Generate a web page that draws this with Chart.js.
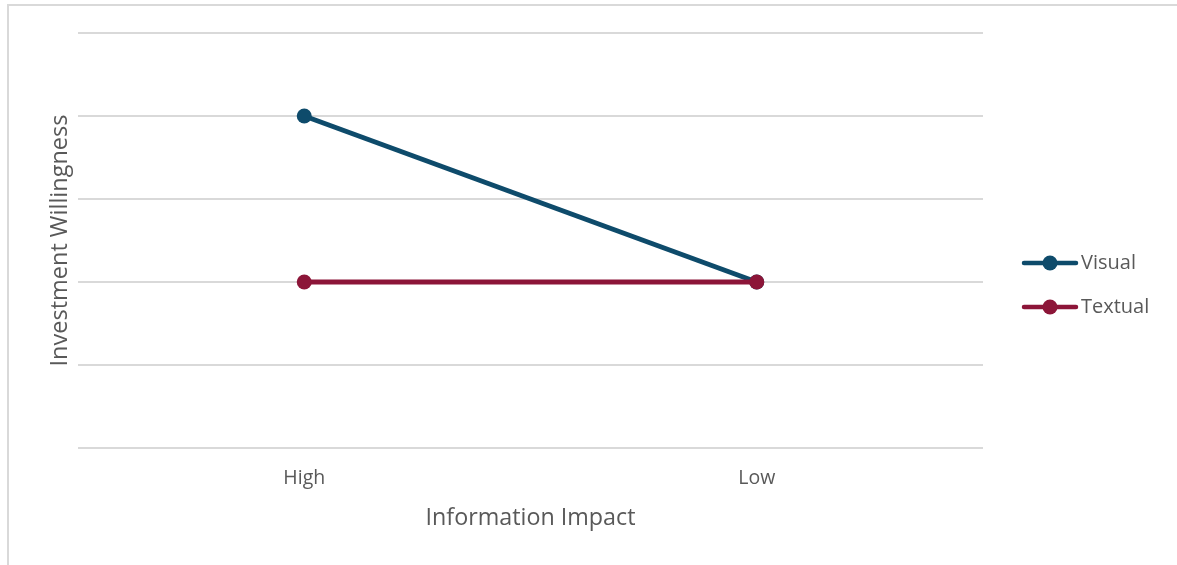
<!DOCTYPE html>
<html>
<head>
<meta charset="utf-8">
<script src="https://cdn.jsdelivr.net/npm/chart.js@4/dist/chart.umd.min.js"></script>
<style>
  html, body { margin: 0; padding: 0; background: #ffffff; overflow: hidden; }
  #wrap { position: relative; width: 1177px; height: 565px; overflow: hidden; }
  #frame { position: absolute; left: 7px; top: 4px; width: 1200px; height: 600px;
           border-left: 2px solid #d9d9d9; border-top: 2px solid #d9d9d9; box-sizing: border-box; }
  canvas { position: absolute; left: 0; top: 0; }
</style>
</head>
<body>
<div id="wrap">
  <div id="frame"></div>
  <canvas id="chart" width="1177" height="565"></canvas>
</div>
<script>
// Interaction plot: investment willingness by information impact and format
const categories = ['High', 'Low'];
const visualValues = [4, 2];
const textualValues = [2, 2];
const yTicks = [0, 1, 2, 3, 4, 5];

const FONT = '"Open Sans", Lato, "Liberation Sans", sans-serif';
const TEXT_COLOR = '#595959';
const GRID_COLOR = '#d9d9d9';

// Legend on the right: a short line with a marker, followed by the series name
const lineLegend = {
  id: 'lineLegend',
  afterDraw(chart) {
    const ctx = chart.ctx;
    ctx.save();
    chart.data.datasets.forEach((ds, i) => {
      const y = 263 + i * 44;
      ctx.strokeStyle = ds.borderColor;
      ctx.lineWidth = 4.5;
      ctx.lineCap = 'round';
      ctx.beginPath();
      ctx.moveTo(1024, y);
      ctx.lineTo(1076, y);
      ctx.stroke();
      ctx.fillStyle = ds.pointBackgroundColor;
      ctx.beginPath();
      ctx.arc(1050, y, 7.5, 0, Math.PI * 2);
      ctx.fill();
      ctx.fillStyle = TEXT_COLOR;
      ctx.font = '20px ' + FONT;
      ctx.textAlign = 'left';
      ctx.textBaseline = 'middle';
      ctx.fillText(ds.label, 1081, y);
    });
    ctx.restore();
  }
};

new Chart(document.getElementById('chart'), {
  type: 'line',
  data: {
    labels: categories,
    datasets: [
      {
        label: 'Visual',
        data: visualValues,
        borderColor: '#0e4b6b',
        backgroundColor: '#0e4b6b',
        pointBackgroundColor: '#0e4b6b',
        pointBorderColor: '#0e4b6b',
        borderWidth: 5,
        pointRadius: 7.5,
        pointBorderWidth: 0,
        tension: 0,
        order: 1
      },
      {
        label: 'Textual',
        data: textualValues,
        borderColor: '#8c1538',
        backgroundColor: '#8c1538',
        pointBackgroundColor: '#8c1538',
        pointBorderColor: '#8c1538',
        borderWidth: 5,
        pointRadius: 7.5,
        pointBorderWidth: 0,
        tension: 0,
        order: 0
      }
    ]
  },
  options: {
    responsive: false,
    animation: false,
    devicePixelRatio: 1,
    layout: { padding: { top: 33, right: 194, bottom: 0, left: 0 } },
    plugins: {
      legend: { display: false },
      tooltip: { enabled: false }
    },
    scales: {
      x: {
        type: 'category',
        offset: true,
        grid: { display: false },
        border: { display: false },
        ticks: {
          color: TEXT_COLOR,
          font: { family: FONT, size: 19.5 },
          padding: 11
        },
        title: {
          display: true,
          text: 'Information Impact',
          color: TEXT_COLOR,
          font: { family: FONT, size: 23.3 },
          padding: { top: 0, bottom: 33 }
        },
        afterFit(scale) { scale.height = 117; }
      },
      y: {
        min: yTicks[0],
        max: yTicks[yTicks.length - 1],
        afterBuildTicks(scale) { scale.ticks = yTicks.map(v => ({ value: v })); },
        grid: { color: GRID_COLOR, lineWidth: 2, drawTicks: false },
        border: { display: false },
        ticks: { display: false },
        title: {
          display: true,
          text: 'Investment Willingness',
          color: TEXT_COLOR,
          font: { family: FONT, size: 23.5 },
          padding: { top: 46, bottom: 0 }
        },
        afterFit(scale) { scale.width = 78; }
      }
    }
  },
  plugins: [lineLegend]
});
</script>
</body>
</html>
